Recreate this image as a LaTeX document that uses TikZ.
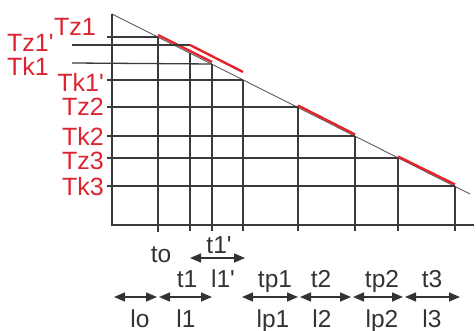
\documentclass[tikz,border=0pt]{standalone}
\usepackage{fontspec}
\setmainfont{Liberation Sans}
\usepackage{xcolor}
\usetikzlibrary{arrows.meta, calc, positioning}
\definecolor{gridgray}{HTML}{3A3A3A}
\definecolor{diaggray}{HTML}{5A5A5A}
\definecolor{redline}{HTML}{E3232B}
\definecolor{labelred}{HTML}{DC2430}
\definecolor{textgray}{HTML}{333333}
\newcommand{\prm}{\textquotesingle}

\begin{document}
\begin{tikzpicture}[
    x=1pt, y=-1pt,
    gridline/.style={draw=gridgray, line width=1.3pt},
    diagline/.style={draw=diaggray, line width=0.9pt},
    redseg/.style={draw=redline, line width=2.4pt},
    tlbl/.style={text=labelred, font=\fontsize{25}{27}\selectfont, inner sep=0pt},
    xlbl/.style={text=textgray, font=\fontsize{24.5}{26}\selectfont, inner sep=0pt, anchor=base},
    durarrow/.style={draw=textgray, line width=1.5pt, {Triangle[length=11pt, width=9pt]}-{Triangle[length=11pt, width=9pt]}}
]
    \useasboundingbox (0,0) rectangle (476,331);

    % Axis, base line and the falling diagonal
    \coordinate (top) at (112,14);
    \coordinate (foot) at (112,225);
    \coordinate (baseend) at (474,225);
    \coordinate (diagend) at (470,194);

    % Points on the diagonal (Tz / Tk levels)
    \coordinate (ptz1) at (158,37);
    \coordinate (ptz1s) at (190,45);
    \coordinate (pt1s) at (190,53);
    \coordinate (ptk1) at (212,64);
    \coordinate (ptk1s) at (243,80);
    \coordinate (ptk1r) at (243,72);
    \coordinate (ptz2) at (298,107);
    \coordinate (ptk2) at (355,136);
    \coordinate (ptz3) at (398,158);
    \coordinate (ptk3) at (455,186);

    \draw [diagline] (top) -- (diagend);

    % Red cooling segments
    \draw [redseg] ([yshift=2pt]ptz1) -- ([yshift=2pt]ptk1);
    \draw [redseg] (ptz1s) -- (ptk1r);
    \draw [redseg] ([yshift=1.5pt]ptz2) -- ([yshift=1.5pt]ptk2);
    \draw [redseg] ([yshift=1.5pt]ptz3) -- ([yshift=1.5pt]ptk3);

    % Axis and base
    \draw [gridline] (top) -- (foot) -- (baseend);

    % Horizontal levels
    \draw [gridline] ([xshift=-5pt]top |- ptz1) -- (ptz1);
    \draw [gridline] (72,45) coordinate (htz1s) -- (ptz1s);
    \draw [gridline] (72,63) coordinate (htk1) -- (ptk1);
    \draw [gridline] ([xshift=-5pt]top |- ptk1s) -- (ptk1s);
    \draw [gridline] ([xshift=-5pt]top |- ptz2) -- (ptz2);
    \draw [gridline] ([xshift=-5pt]top |- ptk2) -- (ptk2);
    \draw [gridline] ([xshift=-5pt]top |- ptz3) -- (ptz3);
    \draw [gridline] ([xshift=-5pt]top |- ptk3) -- (ptk3);

    % Vertical time lines
    \draw [gridline] (ptz1) -- ([yshift=-7pt]ptz1 |- foot);
    \draw [gridline] (pt1s) -- ([yshift=-6pt]pt1s |- foot);
    \draw [gridline] (ptk1) -- ([yshift=-6pt]ptk1 |- foot);
    \draw [gridline] (ptk1s) -- ([yshift=-6pt]ptk1s |- foot);
    \draw [gridline] (ptz2) -- ([yshift=-6pt]ptz2 |- foot);
    \draw [gridline] (ptk2) -- ([yshift=-6pt]ptk2 |- foot);
    \draw [gridline] (ptz3) -- ([yshift=-6pt]ptz3 |- foot);
    \draw [gridline] (ptk3) -- ([yshift=-6pt]ptk3 |- foot);

    % Temperature labels
    \node (tz1) at (96,27) [tlbl, anchor=east] {Tz1};
    \node (tz1s) at (7,43) [tlbl, anchor=west] {Tz1\prm};
    \node (tk1) at (7,66) [tlbl, anchor=west] {Tk1};
    \node (tk1s) at (104,82) [tlbl, anchor=east] {Tk1\prm};
    \node (tz2) at (104,107) [tlbl, anchor=east] {Tz2};
    \node (tk2) at (104,136) [tlbl, anchor=east] {Tk2};
    \node (tz3) at (104,161) [tlbl, anchor=east] {Tz3};
    \node (tk3) at (104,187) [tlbl, anchor=east] {Tk3};

    % Time and length spans
    \coordinate (t1sa) at (190,258);  \coordinate (t1sb) at (245,258);
    \coordinate (loa) at (114,297);   \coordinate (lob) at (157,297);
    \coordinate (l1a) at (159,297);   \coordinate (l1b) at (212,297);
    \coordinate (lp1a) at (242,297);  \coordinate (lp1b) at (298,297);
    \coordinate (l2a) at (300,297);   \coordinate (l2b) at (351,297);
    \coordinate (lp2a) at (353,297);  \coordinate (lp2b) at (403,297);
    \coordinate (l3a) at (405,297);   \coordinate (l3b) at (460,297);

    \draw [durarrow] (t1sa) -- (t1sb);
    \draw [durarrow] (loa) -- (lob);
    \draw [durarrow] (l1a) -- (l1b);
    \draw [durarrow] (lp1a) -- (lp1b);
    \draw [durarrow] (l2a) -- (l2b);
    \draw [durarrow] (lp2a) -- (lp2b);
    \draw [durarrow] (l3a) -- (l3b);

    \node (to) at (161,262) [xlbl] {to};
    \node (t1s) at (219,253) [xlbl] {t1\prm};
    \node (t1) at (187,287) [xlbl] {t1};
    \node (l1s) at (223,287) [xlbl] {l1\prm};
    \node (tp1) at (275,287) [xlbl] {tp1};
    \node (t2) at (321,287) [xlbl] {t2};
    \node (tp2) at (382,287) [xlbl] {tp2};
    \node (t3) at (432,287) [xlbl] {t3};

    \node (lo) at (140,327) [xlbl] {lo};
    \node (l1) at (186,327) [xlbl] {l1};
    \node (lp1) at (273,327) [xlbl] {lp1};
    \node (l2) at (322,327) [xlbl] {l2};
    \node (lp2) at (382,327) [xlbl] {lp2};
    \node (l3) at (432,327) [xlbl] {l3};

\end{tikzpicture}
\end{document}
